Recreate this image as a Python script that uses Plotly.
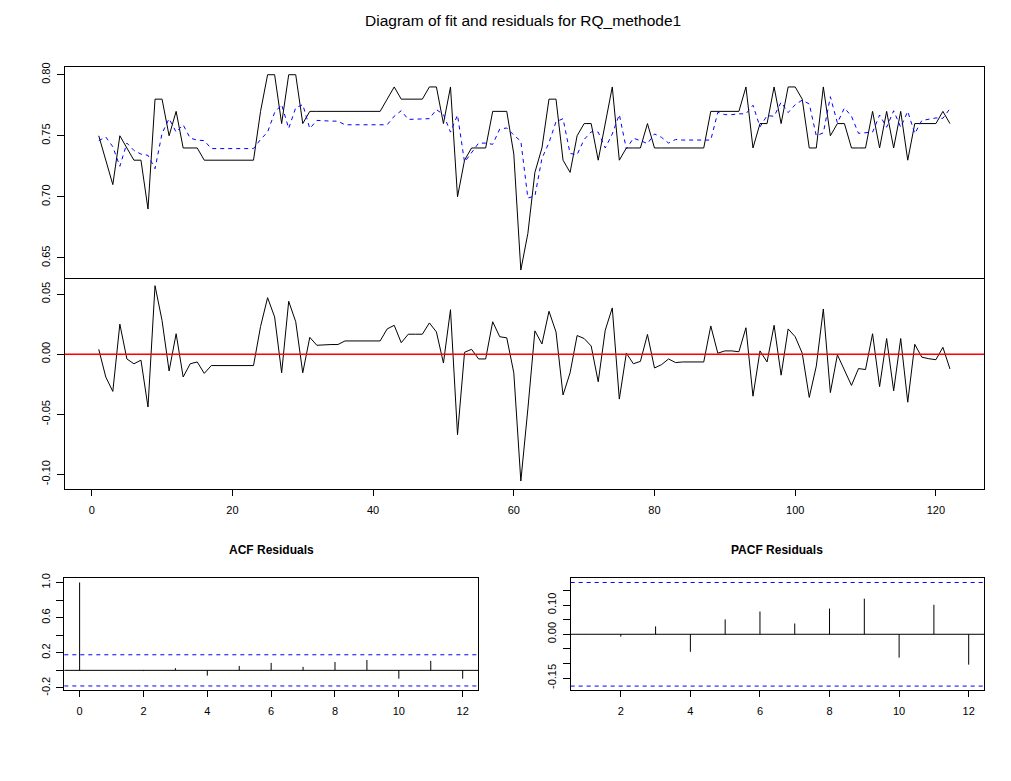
import numpy as np
import plotly.graph_objects as go

# observed series (black), fitted values (blue dashed) and residuals, t = 1..122
actual = [0.75, 0.73, 0.71, 0.75, 0.74, 0.73, 0.73, 0.69, 0.78, 0.78,
          0.75, 0.77, 0.74, 0.74, 0.74, 0.73, 0.73, 0.73, 0.73, 0.73,
          0.73, 0.73, 0.73, 0.77, 0.80, 0.80, 0.76, 0.80, 0.80, 0.76,
          0.77, 0.77, 0.77, 0.77, 0.77, 0.77, 0.77, 0.77, 0.77, 0.77,
          0.77, 0.78, 0.79, 0.78, 0.78, 0.78, 0.78, 0.79, 0.79, 0.76,
          0.79, 0.70, 0.73, 0.74, 0.74, 0.74, 0.77, 0.77, 0.77, 0.735,
          0.64, 0.67, 0.72, 0.74, 0.78, 0.78, 0.73, 0.72, 0.75, 0.76,
          0.76, 0.73, 0.76, 0.79, 0.73, 0.74, 0.74, 0.74, 0.76, 0.74,
          0.74, 0.74, 0.74, 0.74, 0.74, 0.74, 0.74, 0.77, 0.77, 0.77,
          0.77, 0.77, 0.79, 0.74, 0.76, 0.76, 0.79, 0.76, 0.79, 0.79,
          0.78, 0.74, 0.74, 0.79, 0.75, 0.76, 0.76, 0.74, 0.74, 0.74,
          0.77, 0.74, 0.77, 0.74, 0.77, 0.73, 0.76, 0.76, 0.76, 0.76,
          0.77, 0.76]

fitted = [0.746, 0.749, 0.741, 0.725, 0.744, 0.738, 0.735, 0.734, 0.723, 0.752,
          0.764, 0.753, 0.759, 0.748, 0.7465, 0.746, 0.7395, 0.7395, 0.7395, 0.7395,
          0.7395, 0.7395, 0.7395, 0.747, 0.753, 0.769, 0.7755, 0.756, 0.773, 0.7755,
          0.756, 0.7626, 0.762, 0.762, 0.762, 0.759, 0.759, 0.759, 0.759, 0.759,
          0.759, 0.759, 0.766, 0.7705, 0.7634, 0.7634, 0.7634, 0.764, 0.7715, 0.7674,
          0.753, 0.767, 0.7284, 0.736, 0.744, 0.744, 0.743, 0.7555, 0.7564, 0.7505,
          0.7456, 0.699, 0.7006, 0.7315, 0.7443, 0.7615, 0.764, 0.7355, 0.7345, 0.747,
          0.7532, 0.753, 0.740, 0.7515, 0.7674, 0.7392, 0.748, 0.746, 0.7436, 0.7515,
          0.7487, 0.744, 0.747, 0.7465, 0.7465, 0.7465, 0.7465, 0.7465, 0.7692, 0.7673,
          0.7673, 0.768, 0.768, 0.775, 0.7573, 0.7665, 0.766, 0.7775, 0.769, 0.7755,
          0.7792, 0.776, 0.750, 0.7524, 0.782, 0.7605, 0.7728, 0.766, 0.752, 0.7528,
          0.753, 0.767, 0.757, 0.7705, 0.757, 0.770, 0.7518, 0.7625, 0.7638, 0.7646,
          0.7643, 0.7723]

residuals = [0.004, -0.019, -0.031, 0.025, -0.004, -0.008, -0.005, -0.044, 0.057, 0.028,
             -0.014, 0.017, -0.019, -0.008, -0.0065, -0.016, -0.0095, -0.0095, -0.0095, -0.0095,
             -0.0095, -0.0095, -0.0095, 0.023, 0.047, 0.031, -0.0155, 0.044, 0.027, -0.0155,
             0.014, 0.0074, 0.008, 0.008, 0.008, 0.011, 0.011, 0.011, 0.011, 0.011,
             0.011, 0.021, 0.024, 0.0095, 0.0166, 0.0166, 0.0166, 0.026, 0.0185, -0.0074,
             0.037, -0.067, 0.0016, 0.004, -0.004, -0.004, 0.027, 0.0145, 0.0136, -0.0155,
             -0.1056, -0.0456, 0.0194, 0.0085, 0.0357, 0.0185, -0.034, -0.0155, 0.0155, 0.013,
             0.0068, -0.023, 0.020, 0.0385, -0.0374, 0.0008, -0.008, -0.006, 0.0164, -0.0115,
             -0.0087, -0.004, -0.007, -0.0065, -0.0065, -0.0065, -0.0065, 0.0235, 0.0008, 0.0027,
             0.0027, 0.002, 0.022, -0.035, 0.0027, -0.0065, 0.024, -0.0175, 0.021, 0.0145,
             0.0008, -0.036, -0.010, 0.0376, -0.032, -0.0005, -0.0128, -0.026, -0.012, -0.0128,
             0.017, -0.027, 0.013, -0.0305, 0.013, -0.040, 0.0082, -0.0025, -0.0038, -0.0046,
             0.0057, -0.0123]

t = list(range(1, len(actual) + 1))

# ACF / PACF of the residuals
acf_lags = list(range(0, 13))
acf_vals = [1.0, 0.002, -0.008, 0.025, -0.06, 0.05, 0.085, 0.04, 0.095, 0.118, -0.095, 0.108, -0.095]
pacf_lags = list(range(1, 13))
pacf_vals = [0.001, -0.008, 0.027, -0.06, 0.051, 0.078, 0.037, 0.088, 0.122, -0.080, 0.101, -0.104]

clim = 1.96 / np.sqrt(len(residuals))

# page body has an 8px margin, so the figure is a bit smaller than the window
OFF = 8
W, H = 1011 - OFF, 781 - OFF
FONT = "Liberation Sans, Arial, sans-serif"


def fx(p):
    return (p - OFF) / W


def fy(p):
    return 1 - (p - OFF) / H


def spikes(lags, vals):
    xs, ys = [], []
    for l, v in zip(lags, vals):
        xs += [l, l, None]
        ys += [0, v, None]
    return xs, ys


fig = go.Figure()

fig.add_trace(go.Scatter(x=t, y=actual, mode="lines", line=dict(color="black", width=1),
                         xaxis="x", yaxis="y"))
fig.add_trace(go.Scatter(x=t, y=fitted, mode="lines",
                         line=dict(color="#0000ff", width=1, dash="4px,4px"),
                         xaxis="x", yaxis="y"))
fig.add_trace(go.Scatter(x=t, y=residuals, mode="lines", line=dict(color="black", width=1),
                         xaxis="x2", yaxis="y2"))

ax, ay = spikes(acf_lags, acf_vals)
fig.add_trace(go.Scatter(x=ax, y=ay, mode="lines", line=dict(color="black", width=1),
                         xaxis="x3", yaxis="y3"))
px_, py_ = spikes(pacf_lags, pacf_vals)
fig.add_trace(go.Scatter(x=px_, y=py_, mode="lines", line=dict(color="black", width=1),
                         xaxis="x4", yaxis="y4"))

axis_style = dict(showline=True, mirror=True, linecolor="black", linewidth=1,
                  showgrid=False, zeroline=False, ticks="outside", ticklen=6,
                  tickcolor="black", tickfont=dict(family=FONT, size=11, color="black"))
xaxis_style = dict(axis_style, ticklabelstandoff=5)
yaxis_style = dict(axis_style, tickangle=-90, ticklen=7, ticklabelstandoff=2)

main_x = [fx(64.7), fx(984)]
small_y = [fy(695), fy(581.5)]
fig.update_layout(
    xaxis=dict(xaxis_style, domain=main_x, range=[-3.84, 126.84], anchor="y",
               ticks="", showticklabels=False, matches="x2"),
    yaxis=dict(yaxis_style, domain=[fy(276.7), fy(62.7)], range=[0.6336, 0.8064], anchor="x",
               tickvals=[0.65, 0.70, 0.75, 0.80], ticktext=["0.65", "0.70", "0.75", "0.80"]),
    xaxis2=dict(xaxis_style, domain=main_x, range=[-3.84, 126.84], anchor="y2", mirror=False,
                tickvals=[0, 20, 40, 60, 80, 100, 120]),
    yaxis2=dict(yaxis_style, domain=[fy(490.7), fy(276.7)], range=[-0.1121, 0.0635], anchor="x2",
                tickvals=[-0.10, -0.05, 0.0, 0.05], ticktext=["-0.10", "-0.05", "0.00", "0.05"]),
    xaxis3=dict(xaxis_style, domain=[fx(64.3), fx(478)], range=[-0.48, 12.48], anchor="y3",
                tickvals=[0, 2, 4, 6, 8, 10, 12]),
    yaxis3=dict(yaxis_style, domain=small_y, range=[-0.226, 1.047], anchor="x3",
                tickvals=[-0.2, 0.0, 0.2, 0.4, 0.6, 0.8, 1.0],
                ticktext=["-0.2", "", "0.2", "", "0.6", "", "1.0"]),
    xaxis4=dict(xaxis_style, domain=[fx(570.7), fx(984)], range=[0.56, 12.44], anchor="y4",
                tickvals=[2, 4, 6, 8, 10, 12]),
    yaxis4=dict(yaxis_style, domain=small_y, range=[-0.1916, 0.1916], anchor="x4",
                tickvals=[-0.15, -0.10, -0.05, 0.0, 0.05, 0.10, 0.15],
                ticktext=["-0.15", "", "", "0.00", "", "0.10", ""]),
    width=W, height=H,
    margin=dict(l=0, r=0, t=0, b=0),
    paper_bgcolor="white", plot_bgcolor="white",
    showlegend=False,
    font=dict(family=FONT, color="black"),
    annotations=[
        dict(text="Diagram of fit and residuals for RQ_methode1", x=fx(523), y=fy(16),
             xref="paper", yref="paper", showarrow=False, xanchor="center", yanchor="middle",
             font=dict(family=FONT, size=15.5, color="black")),
        dict(text="<b>ACF Residuals</b>", x=fx(271), y=fy(553),
             xref="paper", yref="paper", showarrow=False, xanchor="center", yanchor="middle",
             font=dict(family=FONT, size=12, color="black")),
        dict(text="<b>PACF Residuals</b>", x=fx(777), y=fy(553),
             xref="paper", yref="paper", showarrow=False, xanchor="center", yanchor="middle",
             font=dict(family=FONT, size=12, color="black")),
    ],
    shapes=[
        dict(type="line", xref="x2 domain", yref="y2", x0=0, x1=1, y0=0, y1=0,
             line=dict(color="red", width=1.5)),
        dict(type="line", xref="x3 domain", yref="y3", x0=0, x1=1, y0=0, y1=0,
             line=dict(color="black", width=1)),
        dict(type="line", xref="x3 domain", yref="y3", x0=0, x1=1, y0=clim, y1=clim,
             line=dict(color="#0000ff", width=1, dash="4px,4px")),
        dict(type="line", xref="x3 domain", yref="y3", x0=0, x1=1, y0=-clim, y1=-clim,
             line=dict(color="#0000ff", width=1, dash="4px,4px")),
        dict(type="line", xref="x4 domain", yref="y4", x0=0, x1=1, y0=0, y1=0,
             line=dict(color="black", width=1)),
        dict(type="line", xref="x4 domain", yref="y4", x0=0, x1=1, y0=clim, y1=clim,
             line=dict(color="#0000ff", width=1, dash="4px,4px")),
        dict(type="line", xref="x4 domain", yref="y4", x0=0, x1=1, y0=-clim, y1=-clim,
             line=dict(color="#0000ff", width=1, dash="4px,4px")),
    ],
)

fig.write_html("out.html")
